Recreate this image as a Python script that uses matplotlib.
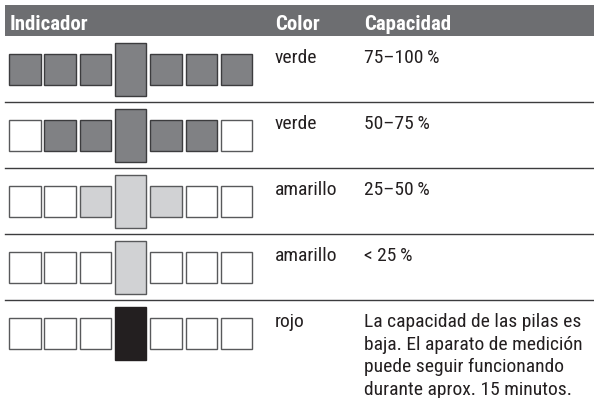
import matplotlib.pyplot as plt
from matplotlib.patches import Rectangle

# table content
headers = ["Indicador", "Color", "Capacidad"]
colour_names = ["verde", "verde", "amarillo", "amarillo", "rojo"]
capacities = [
    "75\u2013100\u2009%",
    "50\u201375\u2009%",
    "25\u201350\u2009%",
    "< 25\u2009%",
    "La capacidad de las pilas es\nbaja. El aparato de medición\npuede seguir funcionando\ndurante aprox. 15 minutos.",
]
# segment states per row: 0 empty, 1 dark grey, 2 light grey, 3 black
segments = [
    [1, 1, 1, 1, 1, 1, 1],
    [0, 1, 1, 1, 1, 1, 0],
    [0, 0, 2, 2, 2, 0, 0],
    [0, 0, 0, 2, 0, 0, 0],
    [0, 0, 0, 3, 0, 0, 0],
]

fills = {0: "white", 1: "#808184", 2: "#d1d2d4", 3: "#231f20"}
edges = {0: "#58595b", 1: "#3c3c3e", 2: "#58595b", 3: "#231f20"}
font = ["Roboto Condensed", "DejaVu Sans"]

W, H = 594, 398
fig = plt.figure(figsize=(W / 100, H / 100), dpi=100)
ax = fig.add_axes([0, 0, 1, 1])
ax.set_xlim(0, W)
ax.set_ylim(H, 0)
ax.axis("off")

# header band
head_top, head_bot = 5, 36
ax.add_patch(Rectangle((5, head_top), W - 5, head_bot - head_top, color="#6d6e71", lw=0))
col_x = [10, 275, 364]
for x, h in zip(col_x, headers):
    ax.text(x, 30, h, color="white", fontsize=15, fontweight="bold",
            family=font, va="baseline", ha="left")

row_h = 66
pitch = 35.3
sq_w = 31.5
line_gap = 22.6
for i, row in enumerate(segments):
    top = head_bot + i * row_h
    cy = top + row_h / 2 + 0.5
    for j, s in enumerate(row):
        x0 = 9 + j * pitch
        half = 26.5 if j == 3 else 15.5
        ax.add_patch(Rectangle((x0, cy - half), sq_w, 2 * half,
                               facecolor=fills[s], edgecolor=edges[s], lw=1.0))
    base = top + 27
    ax.text(col_x[1], base, colour_names[i], fontsize=14, family=font,
            color="#231f20", va="baseline", ha="left")
    for k, line in enumerate(capacities[i].split("\n")):
        ax.text(col_x[2], base + k * line_gap, line, fontsize=14, family=font,
                color="#231f20", va="baseline", ha="left")
    if i < 4:
        ax.plot([5, W], [top + row_h, top + row_h], color="#3c3c3e", lw=1.0)

fig.savefig("out.png", dpi=100)
